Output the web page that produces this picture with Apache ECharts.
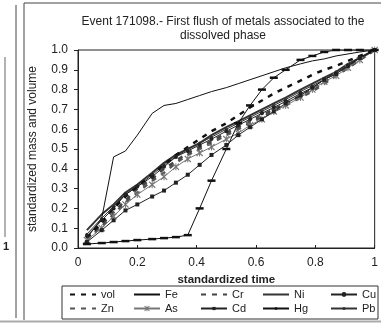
<!DOCTYPE html>
<html><head><meta charset="utf-8">
<script src="https://cdn.jsdelivr.net/npm/echarts@6/dist/echarts.min.js"></script>
<style>html,body{margin:0;padding:0;background:#fff}#c{width:381px;height:323px}</style>
</head><body><div id="c"></div>
<script>
// standardized time (shared by all series)
const time = [0.03,0.08,0.12,0.16,0.20,0.25,0.29,0.33,0.37,0.41,0.45,0.50,0.54,0.58,0.62,0.66,0.70,0.75,0.79,0.83,0.87,0.91,0.95,1.00];
// standardized mass / volume
const vol = [0.05,0.13,0.20,0.26,0.31,0.37,0.42,0.47,0.51,0.55,0.59,0.63,0.67,0.71,0.745,0.78,0.81,0.845,0.875,0.90,0.92,0.945,0.97,1.00];
const Fe  = [0.05,0.15,0.46,0.49,0.57,0.68,0.72,0.73,0.75,0.77,0.79,0.81,0.83,0.85,0.87,0.89,0.91,0.93,0.945,0.955,0.97,0.98,0.99,1.00];
const Cr  = [0.05,0.12,0.18,0.24,0.30,0.35,0.40,0.44,0.48,0.51,0.54,0.58,0.61,0.64,0.67,0.70,0.73,0.77,0.80,0.84,0.87,0.91,0.95,1.00];
const Ni  = [0.09,0.17,0.22,0.28,0.32,0.38,0.43,0.47,0.50,0.53,0.57,0.61,0.64,0.67,0.70,0.73,0.76,0.80,0.83,0.86,0.89,0.93,0.96,1.00];
const Cu  = [0.06,0.14,0.20,0.27,0.31,0.36,0.41,0.46,0.49,0.52,0.55,0.59,0.62,0.65,0.68,0.71,0.74,0.78,0.81,0.85,0.88,0.92,0.96,1.00];
const Zn  = [0.04,0.11,0.17,0.23,0.28,0.34,0.38,0.43,0.47,0.50,0.53,0.57,0.60,0.63,0.66,0.69,0.72,0.76,0.79,0.83,0.87,0.91,0.95,1.00];
const As  = [0.04,0.10,0.16,0.22,0.27,0.32,0.36,0.41,0.45,0.48,0.51,0.55,0.58,0.62,0.65,0.69,0.72,0.76,0.80,0.84,0.87,0.91,0.95,1.00];
const Cd  = [0.03,0.09,0.14,0.19,0.22,0.26,0.29,0.33,0.37,0.42,0.47,0.52,0.57,0.61,0.65,0.69,0.73,0.77,0.81,0.85,0.88,0.92,0.96,1.00];
const Hg  = [0.02,0.025,0.03,0.035,0.04,0.045,0.05,0.055,0.065,0.20,0.34,0.50,0.63,0.72,0.80,0.86,0.90,0.95,0.97,0.99,1.00,1.00,1.00,1.00];
const Pb  = [0.07,0.15,0.21,0.27,0.31,0.37,0.42,0.46,0.50,0.53,0.56,0.60,0.63,0.66,0.69,0.72,0.75,0.79,0.82,0.85,0.89,0.92,0.96,1.00];
// tick labels
const xTickLabels = ['0','0.2','0.4','0.6','0.8','1'];
const yTickLabels = ['0.0','0.1','0.2','0.3','0.4','0.5','0.6','0.7','0.8','0.9','1.0'];
const seriesNames = ['vol','Fe','Cr','Ni','Cu','Zn','As','Cd','Hg','Pb'];
const seriesValues = {vol, Fe, Cr, Ni, Cu, Zn, As, Cd, Hg, Pb};

const FONT = '"Liberation Sans", Arial, sans-serif';
const TXT = '#222';
const asterisk = 'path://M0,1.2 L1.2,0 L5,3.8 L8.8,0 L10,1.2 L6.2,5 L10,8.8 L8.8,10 L5,6.2 L1.2,10 L0,8.8 L3.8,5 Z M4.3,0 L5.7,0 L5.7,10 L4.3,10 Z';
const styles = {
  vol: {color:'#111', width:2.5, type:[5,6], symbol:'none'},
  Fe:  {color:'#111', width:1, type:'solid', symbol:'none'},
  Cr:  {color:'#444', width:2.5, type:[5,6], symbol:'none'},
  Ni:  {color:'#333', width:2, type:'solid', symbol:'none'},
  Cu:  {color:'#222', width:1, type:'solid', symbol:'circle', size:4, legendH:6},
  Zn:  {color:'#555', width:2.5, type:[5,6], symbol:'none'},
  As:  {color:'#777', width:1, type:'solid', symbol:asterisk, size:7, legendH:7},
  Cd:  {color:'#222', width:1, type:'solid', symbol:'rect', size:4, legendH:4},
  Hg:  {color:'#111', width:1, type:'solid', symbol:'rect', size:[8,2.5], legendH:3},
  Pb:  {color:'#333', width:1, type:'solid', symbol:'circle', size:3, legendH:4}
};
const drawOrder = ['Zn','Cr','As','Pb','Ni','Cu','Cd','vol','Fe','Hg'];

const series = drawOrder.map(n => {
  const s = styles[n];
  return {
    name: n, type: 'line',
    data: time.map((t, i) => [t, seriesValues[n][i]]),
    symbol: s.symbol, symbolSize: s.size || 4, showAllSymbol: true,
    itemStyle: {color: s.color},
    lineStyle: {color: s.color, width: s.width, type: s.type},
    animation: false
  };
});

const legendCols = [69, 133, 200, 262, 330];
const legendRowCenters = [296, 310];
const legends = seriesNames.map((n, i) => {
  const s = styles[n];
  const h = s.legendH || 8;
  const item = {name: n};
  if (s.symbol === 'none') item.itemStyle = {opacity: 0};
  return {
    data: [item],
    left: legendCols[i % 5],
    top: legendRowCenters[Math.floor(i / 5)] - 7,
    height: 14,
    padding: 0,
    itemWidth: 26, itemHeight: h,
    textStyle: {fontFamily: FONT, fontSize: 11, color: TXT},
    selectedMode: false
  };
});

const chart = echarts.init(document.getElementById('c'), null, {renderer: 'canvas'});
chart.setOption({
  backgroundColor: '#fff',
  animation: false,
  grid: {left: 78, right: 4, top: 50, bottom: 75, show: true, borderColor: '#222', borderWidth: 1, backgroundColor: 'transparent'},
  xAxis: {
    type: 'value', min: 0, max: 1, interval: 0.2,
    name: 'standardized time', nameLocation: 'middle', nameGap: 24,
    nameTextStyle: {fontFamily: FONT, fontSize: 11.5, fontWeight: 'bold', color: TXT},
    axisLine: {lineStyle: {color: '#222'}},
    axisTick: {inside: true, length: 3, lineStyle: {color: '#222'}},
    axisLabel: {fontFamily: FONT, fontSize: 12, color: TXT, margin: 9,
      formatter: v => xTickLabels[Math.round(v / 0.2)]},
    splitLine: {show: false}
  },
  yAxis: {
    type: 'value', min: 0, max: 1, interval: 0.1,
    name: 'standardized mass and volume', nameLocation: 'middle', nameGap: 39,
    nameTextStyle: {fontFamily: FONT, fontSize: 12, color: TXT},
    axisLine: {show: true, lineStyle: {color: '#222'}},
    axisTick: {show: true, length: 4, lineStyle: {color: '#222'}},
    axisLabel: {fontFamily: FONT, fontSize: 12, color: TXT, margin: 10,
      formatter: v => yTickLabels[Math.round(v * 10)]},
    splitLine: {show: false}
  },
  legend: legends,
  series: series,
  graphic: [
    {type: 'text', style: {text: 'Event 171098.- First flush of metals associated to the\ndissolved phase', x: 223, y: 15, align: 'center', font: '12px ' + FONT, fill: TXT, lineHeight: 14}},
    {type: 'rect', shape: {x: 62, y: 286, width: 316, height: 33}, style: {fill: 'none', stroke: '#333', lineWidth: 1}},
    {type: 'line', shape: {x1: 24, y1: 3, x2: 24, y2: 320}, style: {stroke: '#444', lineWidth: 1}},
    {type: 'line', shape: {x1: 24, y1: 3, x2: 381, y2: 3}, style: {stroke: '#444', lineWidth: 1}},
    {type: 'line', shape: {x1: 16, y1: 5, x2: 16, y2: 318}, style: {stroke: '#444', lineWidth: 1}},
    {type: 'line', shape: {x1: 5, y1: 57, x2: 5, y2: 237}, style: {stroke: '#666', lineWidth: 1}},
    {type: 'line', shape: {x1: 0, y1: 321.5, x2: 381, y2: 321.5}, style: {stroke: '#aaa', lineWidth: 2}},
    {type: 'text', style: {text: '1', x: 6, y: 247, align: 'center', verticalAlign: 'middle', font: 'bold 11px ' + FONT, fill: TXT}}
  ]
});
</script>
</body></html>
